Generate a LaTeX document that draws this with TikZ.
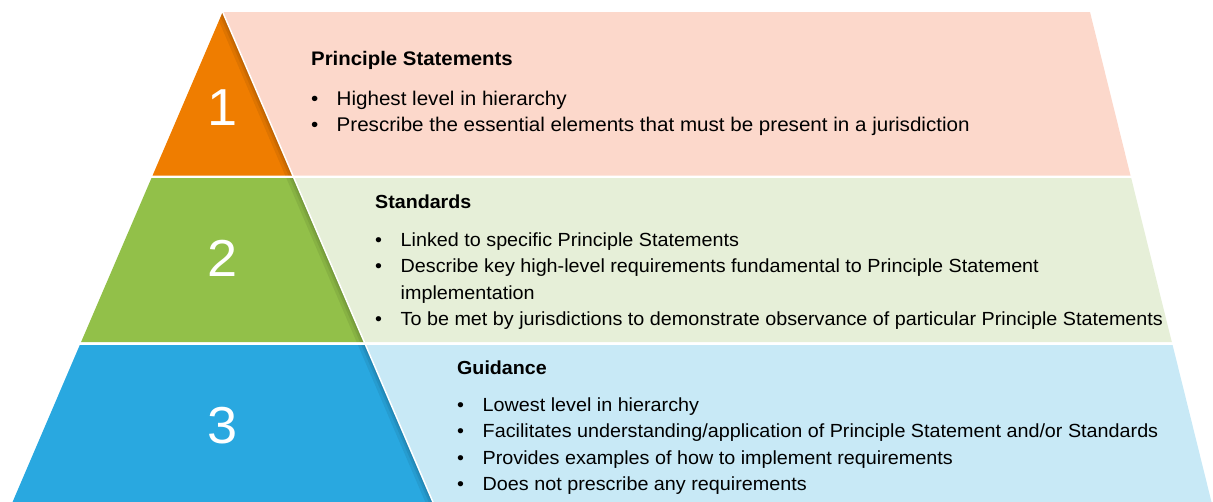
\documentclass[tikz,border=0pt]{standalone}
\usepackage{fontspec}
\setmainfont[FakeStretch=1.04]{Liberation Sans}
\usepackage{array}
\usetikzlibrary{positioning}

\definecolor{tierone}{RGB}{239,125,0}
\definecolor{tiertwo}{RGB}{146,192,73}
\definecolor{tierthree}{RGB}{41,168,224}
\definecolor{panelone}{RGB}{252,216,203}
\definecolor{paneltwo}{RGB}{230,239,216}
\definecolor{panelthree}{RGB}{200,233,246}

\newcommand{\tierlist}[1]{\begin{tabular}[t]{@{}p{25.5pt}@{}l@{}}#1\end{tabular}}

\begin{document}
\begin{tikzpicture}[x=1pt,y=-1pt,
    tiernum/.style={text=white,font=\fontsize{52}{56}\selectfont},
    tierhead/.style={anchor=base west,inner sep=0pt,font=\fontsize{#1}{22}\selectfont\bfseries},
    tierhead/.default=18.9,
    tierbody/.style={anchor=base west,inner sep=0pt,font=\fontsize{#1}{26.5}\selectfont},
    tierbody/.default=19]

  \useasboundingbox (0,0) rectangle (1213,501);

  % text panels
  \fill[panelone] (222.7,12) -- (1090,12) -- (1130.5,175.5) -- (292.8,175.5) -- cycle;
  \fill[paneltwo] (293.9,178) -- (1131.2,178) -- (1171.8,342) -- (364.3,342) -- cycle;
  \fill[panelthree] (365.6,345) -- (1172.6,345) -- (1213,508) -- (435.5,508) -- cycle;

  % pyramid
  \fill[tierone] (222.7,12) -- (292.8,175.5) -- (152.6,175.5) -- cycle;
  \fill[tiertwo] (151.5,178) -- (293.9,178) -- (364.3,342) -- (81.1,342) -- cycle;
  \fill[tierthree] (79.8,345) -- (365.6,345) -- (435.5,508) -- (10,508) -- cycle;

  % shade along the right edge
  \begin{scope}
    \clip (222.7,12) -- (292.8,175.5) -- (152.6,175.5) -- cycle
          (151.5,178) -- (293.9,178) -- (364.3,342) -- (81.1,342) -- cycle
          (79.8,345) -- (365.6,345) -- (435.5,508) -- (10,508) -- cycle;
    \foreach \w in {14,8,4}
      \draw[black,opacity=0.07,line width=\w pt] (222.7,12) -- (435.5,508);
  \end{scope}
  \draw[white,line width=1.5pt] (222.7,12) -- (435.5,508);

  % numbers
  \node[tiernum] (n1) at (222.7,108) {1};
  \node[tiernum] (n2) at (222.7,258) {2};
  \node[tiernum] (n3) at (222.7,426) {3};

  % headings
  \node[tierhead=19.6] (t1) at (311,65) {Principle Statements};
  \node[tierhead] (t2) at (375,208.3) {Standards};
  \node[tierhead] (t3) at (457,374.3) {Guidance};

  % bullet lists
  \node[tierbody=19.8] (b1) at (311,105) {\tierlist{%
    \textbullet & Highest level in hierarchy\\
    \textbullet & Prescribe the essential elements that must be present in a jurisdiction}};
  \node[tierbody] (b2) at (375,246) {\tierlist{%
    \textbullet & Linked to specific Principle Statements\\
    \textbullet & Describe key high-level requirements fundamental to Principle Statement\\
                & implementation\\
    \textbullet & To be met by jurisdictions to demonstrate observance of particular Principle Statements}};
  \node[tierbody] (b3) at (457,411) {\tierlist{%
    \textbullet & Lowest level in hierarchy\\
    \textbullet & Facilitates understanding/application of Principle Statement and/or Standards\\
    \textbullet & Provides examples of how to implement requirements\\
    \textbullet & Does not prescribe any requirements}};
\end{tikzpicture}
\end{document}
